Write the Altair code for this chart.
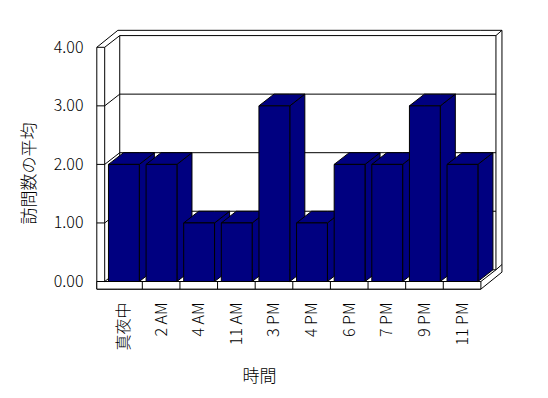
import json
import altair as alt
import pandas as pd

# ---- data ----
CATEGORIES = ["真夜中", "2 AM", "4 AM", "11 AM", "3 PM", "4 PM", "6 PM", "7 PM", "9 PM", "11 PM"]
VALUES = [2.0, 2.0, 1.0, 1.0, 3.0, 1.0, 2.0, 2.0, 3.0, 2.0]
Y_TICKS = [0, 1, 2, 3, 4]
X_TITLE = "時間"
Y_TITLE = "訪問数の平均"

N = len(CATEGORIES)
VMAX = Y_TICKS[-1]

# ---- style / geometry constants (in data units) ----
DX, DY = 0.40, 0.20        # depth of the 3-D box
TL, FT = 0.21, 0.13        # left wall / floor thickness
DXB, DYB = 0.16, 0.09      # back wall thickness
BAR_L, BAR_R = 0.10, 0.92  # bar front inside its band

NAVY = "#000080"
FONT = "Noto Sans CJK JP"

xs = alt.Scale(domain=[0, N], range=[9.7, 385.9], nice=False, zero=False)
ys = alt.Scale(domain=[0, VMAX], range=[273.5, 39.3], nice=False, zero=False)

x_axis = alt.Axis(
    values=[i + 0.5 for i in range(N)],
    labelExpr=json.dumps(CATEGORIES, ensure_ascii=False) + "[floor(datum.value)]",
    labelAngle=270, labelFont=FONT, labelFontSize=16, labelFontWeight=300, labelColor="black",
    labelPadding=4, labelOverlap=False, labelFlush=False,
    ticks=False, domain=False, grid=False,
    title=X_TITLE, titleFont=FONT, titleFontSize=17, titleFontWeight=300,
    titleColor="black", titleX=164, titleY=78, titleAlign="center", titleBaseline="middle",
)
y_axis = alt.Axis(
    values=Y_TICKS, format=".2f",
    labelFont=FONT, labelFontSize=16, labelFontWeight=300, labelColor="black", labelPadding=12,
    labelFlush=False, labelOverlap=False,
    ticks=False, domain=False, grid=False,
    title=Y_TITLE, titleFont=FONT, titleFontSize=17, titleFontWeight=300,
    titleColor="black", titleX=-66, titleY=165, titleAlign="center", titleBaseline="middle",
)


def X(f):
    return alt.X(f, type="quantitative", scale=xs, axis=x_axis)


def Y(f):
    return alt.Y(f, type="quantitative", scale=ys, axis=y_axis, stack=False)


# ---- tables built from the arrays ----
front_df = pd.DataFrame({
    "bar": list(range(N)),
    "x0": [i + BAR_L for i in range(N)],
    "x1": [i + BAR_R for i in range(N)],
    "v": VALUES,
    "base": [0.0] * N,
    "cat": CATEGORIES,
})

side_rows, top_rows = [], []
for i, v in enumerate(VALUES):
    x0, x1 = i + BAR_L, i + BAR_R
    side_rows += [
        {"bar": i, "x": x1, "lo": 0.0, "hi": v},
        {"bar": i, "x": x1 + DX, "lo": DY, "hi": v + DY},
    ]
    top_rows += [
        {"bar": i, "x": x0, "lo": v, "hi": v},
        {"bar": i, "x": x0 + DX, "lo": v, "hi": v + DY},
        {"bar": i, "x": x1, "lo": v, "hi": v + DY},
        {"bar": i, "x": x1 + DX, "lo": v + DY, "hi": v + DY},
    ]
side_df = pd.DataFrame(side_rows)
top_df = pd.DataFrame(top_rows)

sil_df = pd.DataFrame([
    {"x": -TL, "lo": -FT, "hi": VMAX},
    {"x": -TL + DX + DXB, "lo": -FT, "hi": VMAX + DY + DYB},
    {"x": N, "lo": -FT, "hi": VMAX + DY + DYB},
    {"x": N + DX + DXB, "lo": -FT + DY + DYB, "hi": VMAX + DY + DYB},
])

back_df = pd.DataFrame([{"x": DX, "x2": N + DX, "y": DY, "y2": VMAX + DY}])
floor_df = pd.DataFrame([{"x": -TL, "x2": N, "y": -FT, "y2": 0.0}])

rule_rows = []
for v in Y_TICKS:
    if v > 0:
        rule_rows.append({"x": -TL, "y": v, "x2": 0.0, "y2": v})
    rule_rows.append({"x": 0.0, "y": v, "x2": DX, "y2": v + DY})
    if 0 < v < VMAX:
        rule_rows.append({"x": DX, "y": v + DY, "x2": N + DX, "y2": v + DY})
rule_rows.append({"x": 0.0, "y": 0.0, "x2": 0.0, "y2": VMAX})
rule_rows.append({"x": N, "y": 0.0, "x2": N + DX, "y2": DY})
rule_rows.append({"x": N + DX, "y": VMAX + DY, "x2": N + DX + DXB, "y2": VMAX + DY + DYB})
rule_rows.append({"x": N + DX, "y": DY, "x2": N + DX + DXB, "y2": DY + DYB})
for i in range(1, N):
    rule_rows.append({"x": float(i), "y": -FT, "x2": float(i), "y2": 0.0})
rule_df = pd.DataFrame(rule_rows)

# ---- layers ----
sil = alt.Chart(sil_df).mark_area(fill="white", stroke="black", strokeWidth=1).encode(
    x=X("x"), y=Y("lo"), y2="hi")
back = alt.Chart(back_df).mark_rect(fill="white", stroke="black", strokeWidth=1).encode(
    x=X("x"), x2="x2", y=Y("y"), y2="y2")
floor = alt.Chart(floor_df).mark_rect(fill="white", stroke="black", strokeWidth=1).encode(
    x=X("x"), x2="x2", y=Y("y"), y2="y2")
rules = alt.Chart(rule_df).mark_rule(color="black", strokeWidth=1).encode(
    x=X("x"), x2="x2", y=Y("y"), y2="y2")
sides = alt.Chart(side_df).mark_area(fill=NAVY, stroke="black", strokeWidth=1).encode(
    x=X("x"), y=Y("lo"), y2="hi", detail="bar:N")
tops = alt.Chart(top_df).mark_area(fill=NAVY, stroke="black", strokeWidth=1).encode(
    x=X("x"), y=Y("lo"), y2="hi", detail="bar:N")
fronts = alt.Chart(front_df).mark_rect(fill=NAVY, stroke="black", strokeWidth=1).encode(
    x=X("x0"), x2="x1", y=Y("v"), y2="base",
    tooltip=["cat:N", "v:Q"])

chart = alt.layer(sil, back, floor, rules, sides, tops, fronts).properties(
    width=437, height=290,
    padding={"left": 87, "top": 0, "right": 8, "bottom": 90},
    autosize=alt.AutoSizeParams(type="none"),
).configure_view(stroke="transparent")

chart.save("out.html", embed_options={"renderer": "svg", "actions": False})
